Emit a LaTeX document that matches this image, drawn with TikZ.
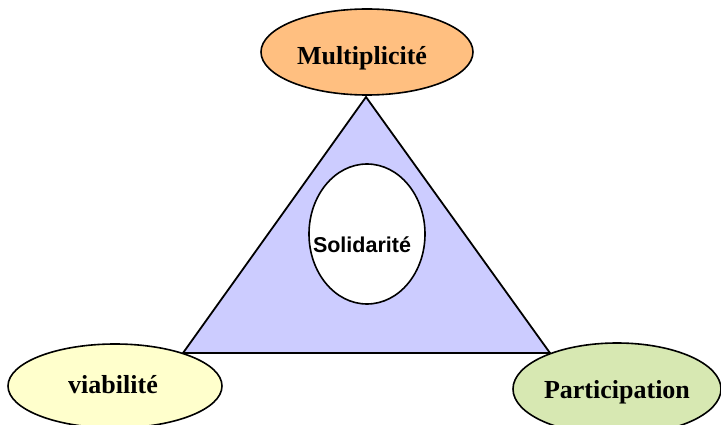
\documentclass[tikz,border=0pt]{standalone}
\usepackage{fontspec}
\setmainfont{Liberation Serif}
\newfontfamily\arialfont{Liberation Sans}
\usetikzlibrary{shapes.geometric}
\definecolor{orangefill}{RGB}{255,191,128}
\definecolor{yellowfill}{RGB}{255,255,204}
\definecolor{greenfill}{RGB}{215,232,178}
\definecolor{trifill}{RGB}{204,204,255}
\tikzset{
  oval/.style={ellipse, draw=black, line width=1.6pt, inner sep=0pt},
  lbl/.style={anchor=base, inner sep=0pt, font=\fontsize{26}{26}\selectfont\bfseries},
}
\begin{document}
\begin{tikzpicture}[x=1pt,y=-1pt]
\useasboundingbox (0,0) rectangle (721,425);
\coordinate (apex) at (366,97);
\coordinate (bl) at (183,353);
\coordinate (br) at (550,353);
\filldraw[fill=trifill, draw=black, line width=1.8pt, line join=miter] (apex) -- (br) -- (bl) -- cycle;
\node[oval, fill=white, minimum width=116pt, minimum height=140pt] (sol) at (367,234) {};
\node[anchor=base, inner sep=0pt, font=\arialfont\fontsize{21.5}{21.5}\selectfont\bfseries] (solt) at (362,252) {Solidarité};
\node[oval, fill=orangefill, minimum width=212pt, minimum height=86pt] (multi) at (367,52) {};
\node[lbl] (multit) at (362,65) {Multiplicité};
\node[oval, fill=yellowfill, minimum width=214pt, minimum height=84pt] (via) at (115,386) {};
\node[lbl] (viat) at (113,393) {viabilité};
\node[oval, fill=greenfill, minimum width=208pt, minimum height=92pt] (part) at (617,389) {};
\node[lbl] (partt) at (617,398) {Participation};
\end{tikzpicture}
\end{document}
